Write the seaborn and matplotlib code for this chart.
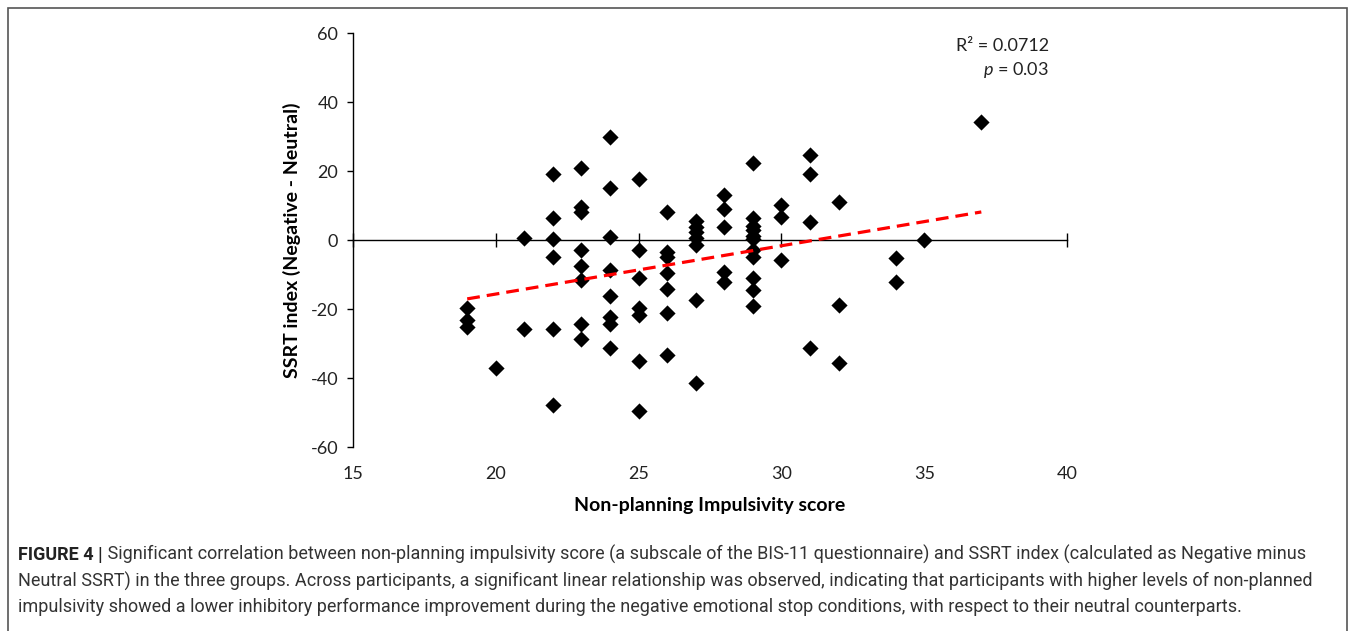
import matplotlib.pyplot as plt
import matplotlib.patches as mpatches
import numpy as np
import pandas as pd
import seaborn as sns

# non-planning impulsivity score (BIS-11 subscale) per participant
score = [19, 19, 19,
         20,
         21, 21,
         22, 22, 22, 22, 22, 22,
         23, 23, 23, 23, 23, 23, 23, 23,
         24, 24, 24, 24, 24, 24, 24, 24,
         25, 25, 25, 25, 25, 25, 25,
         26, 26, 26, 26, 26, 26, 26,
         27, 27, 27, 27, 27, 27, 27,
         28, 28, 28, 28, 28,
         29, 29, 29, 29, 29, 29, 29, 29, 29, 29, 29,
         30, 30, 30,
         31, 31, 31, 31,
         32, 32, 32,
         34, 34,
         35,
         37]

# SSRT index (Negative - Neutral)
ssrt = [-19.8, -23.2, -25.1,
        -37.2,
        0.5, -25.9,
        19.0, 6.3, 0.2, -4.8, -25.9, -47.8,
        20.8, 9.5, 8.2, -2.9, -7.4, -11.6, -24.3, -28.7,
        29.8, 15.1, 0.8, -8.7, -16.1, -22.4, -24.3, -31.4,
        17.6, -2.9, -11.1, -19.8, -21.7, -35.0, -49.5,
        8.2, -3.4, -4.8, -9.7, -14.2, -21.1, -33.3,
        5.5, 3.8, 2.2, 0.5, -1.5, -17.4, -41.5,
        13.0, 8.9, 3.9, -9.2, -12.1,
        22.2, 6.3, 4.2, 2.8, 1.3, 0.2, -2.9, -4.8, -11.1, -14.5, -19.0,
        10.1, 6.8, -5.8,
        24.6, 19.1, 5.3, -31.4,
        10.9, -18.8, -35.6,
        -5.1, -12.3,
        0.0,
        34.3]

x_ticks = [15, 20, 25, 30, 35, 40]
y_ticks = [-60, -40, -20, 0, 20, 40, 60]

r2_text = "R\u00b2 = 0.0712"
p_text = "$p$ = 0.03"

caption_lines = [
    "Significant correlation between non-planning impulsivity score (a subscale of the BIS-11 questionnaire) and SSRT index (calculated as Negative minus",
    "Neutral SSRT) in the three groups. Across participants, a significant linear relationship was observed, indicating that participants with higher levels of non-planned",
    "impulsivity showed a lower inhibitory performance improvement during the negative emotional stop conditions, with respect to their neutral counterparts.",
]

df = pd.DataFrame({"score": score, "ssrt": ssrt})

sns.set_style("white")
plt.rcParams["font.family"] = ["Lato", "DejaVu Sans"]
plt.rcParams["axes.unicode_minus"] = False
plt.rcParams["mathtext.fontset"] = "custom"
plt.rcParams["mathtext.it"] = "Lato:italic"
plt.rcParams["mathtext.rm"] = "Lato"

fig = plt.figure(figsize=(13.57, 6.31), dpi=100)
ax = fig.add_axes([0.2601, 0.2916, 0.5262, 0.6561])

sns.regplot(data=df, x="score", y="ssrt", scatter=False, ci=None, truncate=True, ax=ax,
            line_kws=dict(color="#ff0000", lw=2.3, ls=(0, (4, 2.2)), zorder=4))
sns.scatterplot(data=df, x="score", y="ssrt", marker="D", s=68, color="black",
                linewidth=0, ax=ax, zorder=3)

ax.set_xlim(15, 40)
ax.set_ylim(-60, 60)
for s in ["top", "right"]:
    ax.spines[s].set_visible(False)
ax.spines["bottom"].set_position(("data", 0))
ax.spines["bottom"].set_color("black")
ax.spines["left"].set_color("black")
ax.spines["bottom"].set_linewidth(1.0)
ax.spines["left"].set_linewidth(1.0)

ax.set_xticks(x_ticks)
ax.tick_params(axis="x", bottom=True, direction="inout", length=10, width=1,
               color="black", labelbottom=False)
ax.set_yticks(y_ticks)
ax.tick_params(axis="y", left=True, direction="out", length=4.5, width=1,
               color="black", labelsize=13, labelcolor="#222222", pad=6)

# tick labels sit below the plot, like the Excel "low" label position
sec = ax.secondary_xaxis(0.0)
sec.set_xticks(x_ticks)
sec.tick_params(length=0, pad=14, labelsize=13, labelcolor="#222222", labelbottom=True)
sec.spines["bottom"].set_visible(False)

ax.set_xlabel("Non-planning Impulsivity score", fontsize=14, fontweight="bold", color="black")
ax.xaxis.set_label_coords(0.5, -0.121)
ax.set_ylabel("SSRT index (Negative - Neutral)", fontsize=14, fontweight="bold", color="black")
ax.yaxis.set_label_coords(-0.073, 0.5)

ax.text(0.975, 0.969, r2_text, transform=ax.transAxes, ha="right", va="center",
        fontsize=13, color="#222222")
ax.text(0.975, 0.911, p_text, transform=ax.transAxes, ha="right", va="center",
        fontsize=13, color="#222222")

# frame around figure + caption
fig.add_artist(mpatches.Rectangle((8 / 1357, -0.1), (1347 - 8) / 1357, 1 - 8 / 631 + 0.1,
                                  transform=fig.transFigure, fill=False,
                                  edgecolor="#555555", lw=1.2))

cap_kw = dict(fontsize=13.0, family=["Roboto", "DejaVu Sans"], color="#333333")
t = fig.text(18 / 1357, 1 - 555 / 631, "FIGURE 4 |", fontweight="bold", va="center",
             fontsize=13.0, family=["Roboto", "DejaVu Sans"], color="#222222")
fig.add_artist(plt.Annotation(" " + caption_lines[0], xy=(1, 0), xycoords=t,
                              va="bottom", ha="left", **cap_kw))
fig.text(18 / 1357, 1 - 581 / 631, caption_lines[1], va="center", **cap_kw)
fig.text(18 / 1357, 1 - 607 / 631, caption_lines[2], va="center", **cap_kw)

fig.savefig("out.png", dpi=100)
